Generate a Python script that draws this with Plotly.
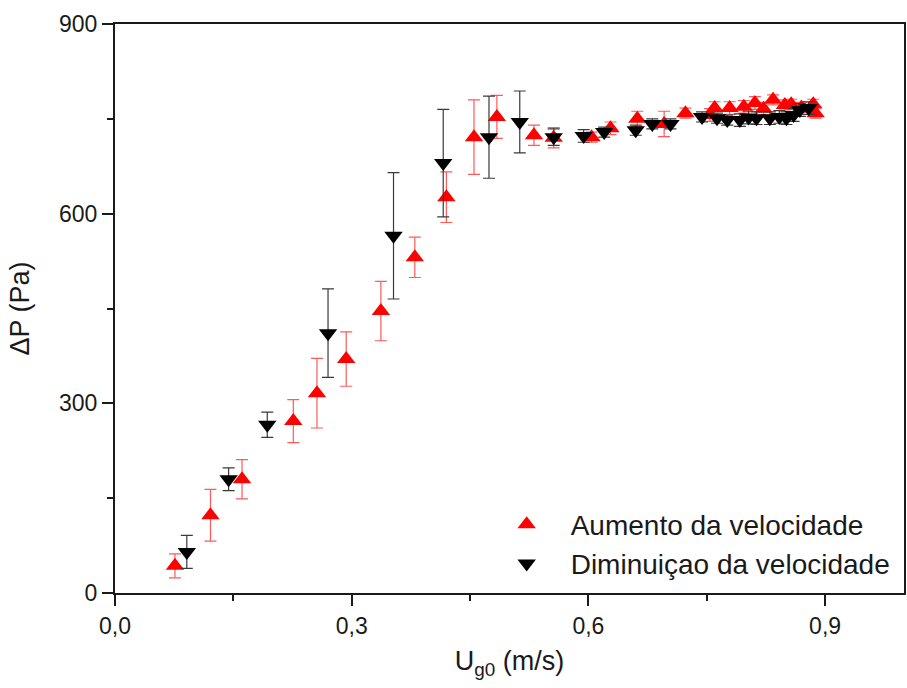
import plotly.graph_objects as go

# Aumento da velocidade (red, triangle up)
x_up = [0.076, 0.121, 0.161, 0.226, 0.256, 0.293, 0.337, 0.380, 0.420, 0.455,
        0.484, 0.531, 0.556, 0.604, 0.628, 0.662, 0.696, 0.723, 0.754, 0.760,
        0.779, 0.797, 0.811, 0.822, 0.834, 0.849, 0.857, 0.870, 0.885, 0.888]
y_up = [43, 123, 180, 272, 316, 370, 446, 531, 626, 721,
        753, 724, 720, 721, 735, 750, 742, 759, 756, 767,
        767, 769, 775, 766, 780, 772, 773, 768, 773, 759]
err_up = [19, 41, 31, 34, 55, 43, 47, 32, 40, 59,
          34, 16, 16, 8, 10, 12, 20, 8, 10, 10,
          10, 10, 10, 10, 8, 8, 8, 8, 8, 8]

# Diminuiçao da velocidade (black, triangle down)
x_dn = [0.091, 0.144, 0.193, 0.270, 0.353, 0.416, 0.474, 0.513, 0.556, 0.594,
        0.620, 0.660, 0.681, 0.704, 0.744, 0.763, 0.776, 0.792, 0.803, 0.813,
        0.830, 0.842, 0.851, 0.860, 0.868, 0.879]
y_dn = [65, 180, 266, 411, 565, 680, 721, 745, 721, 723,
        729, 732, 742, 742, 753, 751, 748, 748, 752, 751,
        751, 753, 751, 756, 764, 767]
err_dn = [26, 18, 20, 70, 100, 85, 65, 49, 13, 10,
          8, 8, 8, 8, 8, 8, 8, 10, 10, 10,
          10, 10, 10, 10, 10, 10]

x_tickvals = [0.0, 0.3, 0.6, 0.9]
x_ticktext = ["0,0", "0,3", "0,6", "0,9"]
x_minor = [0.15, 0.45, 0.75]
y_tickvals = [0, 300, 600, 900]
y_ticktext = ["0", "300", "600", "900"]
y_minor = [150, 450, 750]

font_family = "Liberation Sans, Arial, sans-serif"
ink = "#1a1a1a"

fig = go.Figure()
fig.add_trace(go.Scatter(
    x=x_up, y=y_up, mode="markers", name="Aumento da velocidade",
    marker=dict(symbol="triangle-up", size=16, color="#ff0000", line=dict(width=0)),
    error_y=dict(type="data", array=err_up, visible=True, color="#ff5a5a",
                 thickness=1.2, width=6),
))
fig.add_trace(go.Scatter(
    x=x_dn, y=y_dn, mode="markers", name="Diminuiçao da velocidade",
    marker=dict(symbol="triangle-down", size=16, color="#000000", line=dict(width=0)),
    error_y=dict(type="data", array=err_dn, visible=True, color="#3a3a3a",
                 thickness=1.2, width=6),
))

axis_common = dict(
    showgrid=False, zeroline=False, showline=True, linecolor=ink,
    linewidth=2, mirror=True, ticks="outside", ticklen=11, tickwidth=2,
    tickcolor=ink,
    tickfont=dict(family=font_family, size=23, color=ink),
)

fig.update_xaxes(
    range=[0, 1.0], tickmode="array", tickvals=x_tickvals, ticktext=x_ticktext,
    minor=dict(tickmode="array", tickvals=x_minor, ticks="outside", ticklen=6,
               tickwidth=2, tickcolor=ink, showgrid=False),
    title=dict(text="U<sub>g0</sub> (m/s)",
               font=dict(family=font_family, size=27, color=ink), standoff=14),
    **axis_common,
)
fig.update_yaxes(
    range=[0, 900], tickmode="array", tickvals=y_tickvals, ticktext=y_ticktext,
    minor=dict(tickmode="array", tickvals=y_minor, ticks="outside", ticklen=6,
               tickwidth=2, tickcolor=ink, showgrid=False),
    title=dict(text="ΔP (Pa)",
               font=dict(family=font_family, size=27, color=ink), standoff=22),
    **axis_common,
)

fig.update_layout(
    width=907, height=688,
    margin=dict(l=115, r=1, t=24, b=95),
    plot_bgcolor="white", paper_bgcolor="white",
    font=dict(family=font_family, color=ink),
    legend=dict(x=0.466, y=0.008, xanchor="left", yanchor="bottom",
                bgcolor="rgba(0,0,0,0)", itemwidth=78,
                font=dict(family=font_family, size=28, color=ink)),
)

fig.write_html("out.html")
